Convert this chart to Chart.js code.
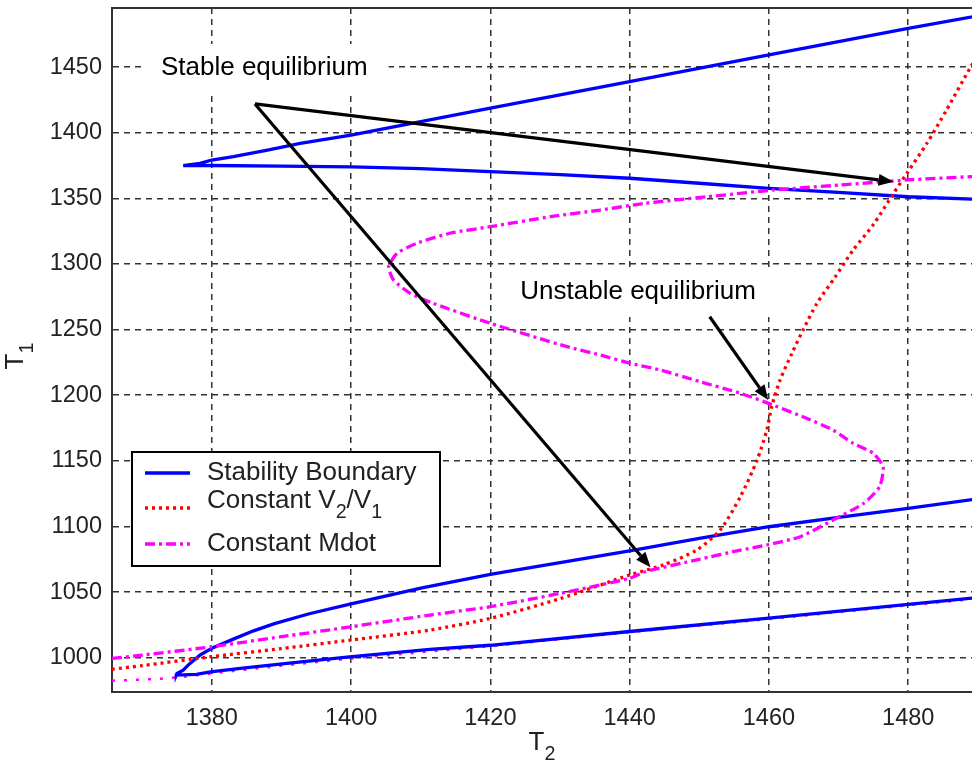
<!DOCTYPE html>
<html>
<head>
<meta charset="utf-8">
<script src="https://cdn.jsdelivr.net/npm/chart.js@4.4.1/dist/chart.umd.min.js"></script>
<style>
  html, body { margin: 0; padding: 0; background: #fff; overflow: hidden; }
</style>
</head>
<body>
<canvas id="chart" width="972" height="773"></canvas>
<script>
const FONT = '"Liberation Sans", Arial, Helvetica, sans-serif';

// axes
const xLimits = [1365.67, 1489.16];
const yLimits = [973.9, 1495];
const xTicks = [1380, 1400, 1420, 1440, 1460, 1480];
const yTicks = [1000, 1050, 1100, 1150, 1200, 1250, 1300, 1350, 1400, 1450];

// stability boundary, upper wedge (upper branch into the nose, then back out along the lower edge)
const stabTopT2 = [1492, 1480, 1460, 1440, 1420, 1400, 1392.7, 1388, 1383.1, 1380, 1378.3, 1375.9,
                   1380, 1390, 1400, 1410, 1420, 1430, 1440, 1450, 1460, 1470, 1480, 1492];
const stabTopT1 = [1491, 1479.5, 1459.2, 1438.9, 1418.8, 1398.1, 1391.8, 1386.8, 1381.7, 1379.2, 1376.7, 1374.9,
                   1375, 1374.5, 1374, 1372.6, 1370.3, 1368, 1365.3, 1361.5, 1357.6, 1354.5, 1351.2, 1348.8];

// stability boundary, lower wedge
const stabLowT2 = [1492, 1480, 1470, 1460, 1450, 1440, 1430, 1420, 1410, 1400, 1394, 1389, 1386, 1383, 1380,
                   1378.3, 1376.6, 1375.9, 1375.0, 1374.9,
                   1377.8, 1379.8, 1384.1, 1390.8, 1399.4, 1411.3, 1420, 1440, 1460, 1480, 1492];
const stabLowT1 = [1122.5, 1113.8, 1107, 1099.8, 1091, 1081.5, 1072.5, 1063.5, 1053, 1041, 1033.5, 1026, 1020.5, 1014, 1007.2,
                   1002, 994.4, 990.6, 988, 986.8,
                   987.4, 989.3, 991.9, 995.7, 1000.5, 1006.4, 1009.5, 1020, 1030.2, 1040.6, 1047];

// constant V2/V1
const ratioT2 = [1365.67, 1370, 1380, 1390, 1400, 1411.3, 1420, 1430, 1440, 1445, 1449.6, 1453, 1455.9, 1458.3,
                 1459.7, 1460.4, 1461.6, 1463.3, 1464.9, 1466.9, 1469.5, 1472.1, 1475, 1477.9, 1479.8, 1482.7,
                 1485.5, 1489, 1490];
const ratioT1 = [991.2, 994, 1000.8, 1007, 1013.5, 1021.1, 1030, 1045, 1063, 1071, 1082, 1097.3, 1122.7, 1150.6,
                 1173.5, 1191.3, 1211.6, 1231.9, 1249.7, 1270, 1290, 1310.6, 1330, 1353.8, 1369, 1392,
                 1417.3, 1450.3, 1458];

// constant Mdot (S-shaped branch)
const mdotT2 = [1365.67, 1370, 1380, 1390, 1400, 1411.3, 1420, 1430, 1440, 1442.2, 1450, 1455.9, 1459.7, 1464.5,
                1469.2, 1473.6, 1475.9, 1476.4, 1475, 1472.1, 1469.2, 1465.4, 1460.6, 1455.9, 1450.1, 1444.4,
                1440.1, 1435.8, 1431, 1420, 1411.8, 1408.5, 1406.1, 1405.4, 1406.6, 1409.4, 1414.2, 1420,
                1428.6, 1435.8, 1442.2, 1451.1, 1460.6, 1470.2, 1479.8, 1490];
const mdotT1 = [999.5, 1002, 1008.4, 1016, 1023.6, 1032.5, 1038.9, 1049, 1060.5, 1065.5, 1075, 1082, 1085.9, 1092.2,
                1104.9, 1117.6, 1130.3, 1145.5, 1155.7, 1163.3, 1173.5, 1182.4, 1192.5, 1201.5, 1210.3, 1219.2,
                1224.3, 1230.6, 1237, 1254.8, 1270, 1277.6, 1287.8, 1297.9, 1308.1, 1315.7, 1323.4, 1328.4,
                1336, 1341.1, 1346.2, 1351.2, 1356.3, 1360.1, 1364, 1366.8];

// constant Mdot, second branch running under the lower boundary
const mdotLowT2 = [1365.67, 1372, 1376, 1384, 1391, 1400, 1420, 1440, 1460, 1480, 1492];
const mdotLowT1 = [982.5, 983.8, 985.5, 990.5, 994.5, 999.5, 1008.8, 1019.5, 1029.5, 1040, 1046];

// annotations
const noteText = ['Stable equilibrium', 'Unstable equilibrium'];
const noteT2 = [1372.7, 1424.3];
const noteT1 = [1449.3, 1278.6];
const arrowFromT2 = [1386.2, 1386.2, 1451.5];
const arrowFromT1 = [1421.9, 1421.9, 1259.8];
const arrowToT2 = [1477.9, 1443.0, 1459.9];
const arrowToT1 = [1362.7, 1069.0, 1196.3];

const pts = (xs, ys) => xs.map((v, i) => ({ x: v, y: ys[i] }));

// text with "_c" meaning subscript c
function richText(ctx, str, x, y, size, measureOnly) {
  const runs = [];
  let buf = '';
  for (let i = 0; i < str.length; i++) {
    if (str[i] === '_') {
      if (buf) runs.push([buf, false]);
      buf = '';
      runs.push([str[++i], true]);
    } else buf += str[i];
  }
  if (buf) runs.push([buf, false]);
  let cx = x;
  runs.forEach(([t, sub]) => {
    const s = sub ? size * 0.76 : size;
    ctx.font = s + 'px ' + FONT;
    if (!measureOnly) ctx.fillText(t, cx, sub ? y + size * 0.45 : y);
    cx += ctx.measureText(t).width;
  });
  return cx - x;
}

const decorations = {
  id: 'decorations',
  afterDatasetsDraw(chart) {
    const { ctx, chartArea: a, scales: { x, y } } = chart;
    ctx.save();

    // top frame line
    ctx.strokeStyle = '#333';
    ctx.lineWidth = 2;
    ctx.setLineDash([]);
    ctx.beginPath();
    ctx.moveTo(a.left, a.top);
    ctx.lineTo(a.right, a.top);
    ctx.stroke();

    // text notes on white boxes
    ctx.textBaseline = 'middle';
    ctx.textAlign = 'left';
    noteText.forEach((t, i) => {
      const px = x.getPixelForValue(noteT2[i]);
      const py = y.getPixelForValue(noteT1[i]);
      ctx.font = '26px ' + FONT;
      const w = ctx.measureText(t).width;
      ctx.fillStyle = '#fff';
      ctx.fillRect(px - 19, py - 24, w + 40, 49);
      ctx.fillStyle = '#000';
      ctx.fillText(t, px, py);
    });

    // arrows
    ctx.strokeStyle = '#000';
    ctx.fillStyle = '#000';
    ctx.lineWidth = 3.2;
    arrowFromT2.forEach((v, i) => {
      const x0 = x.getPixelForValue(v), y0 = y.getPixelForValue(arrowFromT1[i]);
      const x1 = x.getPixelForValue(arrowToT2[i]), y1 = y.getPixelForValue(arrowToT1[i]);
      const ang = Math.atan2(y1 - y0, x1 - x0);
      const len = 15, half = 6;
      const bx = x1 - len * Math.cos(ang), by = y1 - len * Math.sin(ang);
      ctx.beginPath();
      ctx.moveTo(x0, y0);
      ctx.lineTo(bx, by);
      ctx.stroke();
      ctx.beginPath();
      ctx.moveTo(x1, y1);
      ctx.lineTo(bx + half * Math.sin(ang), by - half * Math.cos(ang));
      ctx.lineTo(bx - half * Math.sin(ang), by + half * Math.cos(ang));
      ctx.closePath();
      ctx.fill();
    });

    // legend
    const lx = a.left + 20, ly = a.top + 444, lw = 308, lh = 114;
    ctx.fillStyle = '#fff';
    ctx.fillRect(lx, ly, lw, lh);
    ctx.strokeStyle = '#000';
    ctx.lineWidth = 2;
    ctx.strokeRect(lx, ly, lw, lh);
    const rowY = [21, 49, 92];
    const sampleY = [21, 56, 92];
    chart.data.datasets.filter(d => d.inLegend).forEach((d, i) => {
      ctx.strokeStyle = d.borderColor;
      ctx.lineWidth = d.borderWidth;
      ctx.setLineDash(d.borderDash || []);
      ctx.beginPath();
      ctx.moveTo(lx + 13, ly + sampleY[i]);
      ctx.lineTo(lx + 58, ly + sampleY[i]);
      ctx.stroke();
      ctx.setLineDash([]);
      ctx.fillStyle = '#222';
      ctx.textBaseline = 'middle';
      richText(ctx, d.label, lx + 75, ly + rowY[i], 26);
    });

    ctx.restore();
  },
  afterDraw(chart) {
    const { ctx, chartArea: a } = chart;
    ctx.save();
    ctx.fillStyle = '#222';
    ctx.textBaseline = 'middle';
    // x title
    const w2 = richText(ctx, 'T_2', 0, 0, 26, true);
    richText(ctx, 'T_2', (a.left + a.right) / 2 - w2 / 2, 743, 26);
    // y title
    const w1 = richText(ctx, 'T_1', 0, 0, 26, true);
    ctx.translate(16, (a.top + a.bottom) / 2 + 6);
    ctx.rotate(-Math.PI / 2);
    richText(ctx, 'T_1', -w1 / 2, 0, 26);
    ctx.restore();
  }
};

const noEdgePadding = s => { s.paddingTop = 0; s.paddingBottom = 0; s.paddingLeft = 0; s.paddingRight = 0; };

new Chart(document.getElementById('chart'), {
  type: 'scatter',
  data: {
    datasets: [
      {
        label: 'Stability Boundary', inLegend: true,
        data: pts(stabTopT2, stabTopT1),
        borderColor: '#0000ff', borderWidth: 3.3, order: 2
      },
      {
        label: 'Stability Boundary (lower)', inLegend: false,
        data: pts(stabLowT2, stabLowT1),
        borderColor: '#0000ff', borderWidth: 3.3, order: 2
      },
      {
        label: 'Constant V_2/V_1', inLegend: true,
        data: pts(ratioT2, ratioT1),
        borderColor: '#ff0000', borderWidth: 3.3, borderDash: [3, 4], order: 1, tension: 0.25
      },
      {
        label: 'Constant Mdot', inLegend: true,
        data: pts(mdotT2, mdotT1),
        borderColor: '#ff00ff', borderWidth: 3.3, borderDash: [10, 4, 3, 4], order: 0, tension: 0.2
      },
      {
        label: 'Constant Mdot (lower)', inLegend: false,
        data: pts(mdotLowT2, mdotLowT1),
        borderColor: '#ff00ff', borderWidth: 2.5, borderDash: [3, 9], order: 3
      }
    ].map(d => Object.assign({ showLine: true, pointRadius: 0, tension: 0, fill: false }, d))
  },
  options: {
    responsive: false,
    animation: false,
    devicePixelRatio: 1,
    layout: { padding: { top: 8, right: 0, left: 0, bottom: 0 } },
    plugins: { legend: { display: false }, tooltip: { enabled: false } },
    scales: {
      x: {
        type: 'linear', min: xLimits[0], max: xLimits[1],
        afterBuildTicks: s => { s.ticks = xTicks.map(v => ({ value: v })); },
        afterFit: s => { s.height = 81; noEdgePadding(s); },
        ticks: { color: '#222', font: { size: 23.5, family: FONT }, padding: 12, maxRotation: 0, callback: v => String(v) },
        grid: { color: '#333', lineWidth: 1.5, drawTicks: false },
        border: { color: '#333', width: 2, dash: [6, 5] }
      },
      y: {
        type: 'linear', min: yLimits[0], max: yLimits[1],
        afterBuildTicks: s => { s.ticks = yTicks.map(v => ({ value: v })); },
        afterFit: s => { s.width = 112; noEdgePadding(s); },
        ticks: { color: '#222', font: { size: 23.5, family: FONT }, padding: 10, callback: v => String(v) },
        grid: { color: '#333', lineWidth: 1.5, drawTicks: false },
        border: { color: '#333', width: 2, dash: [6, 5] }
      }
    }
  },
  plugins: [decorations]
});
</script>
</body>
</html>
